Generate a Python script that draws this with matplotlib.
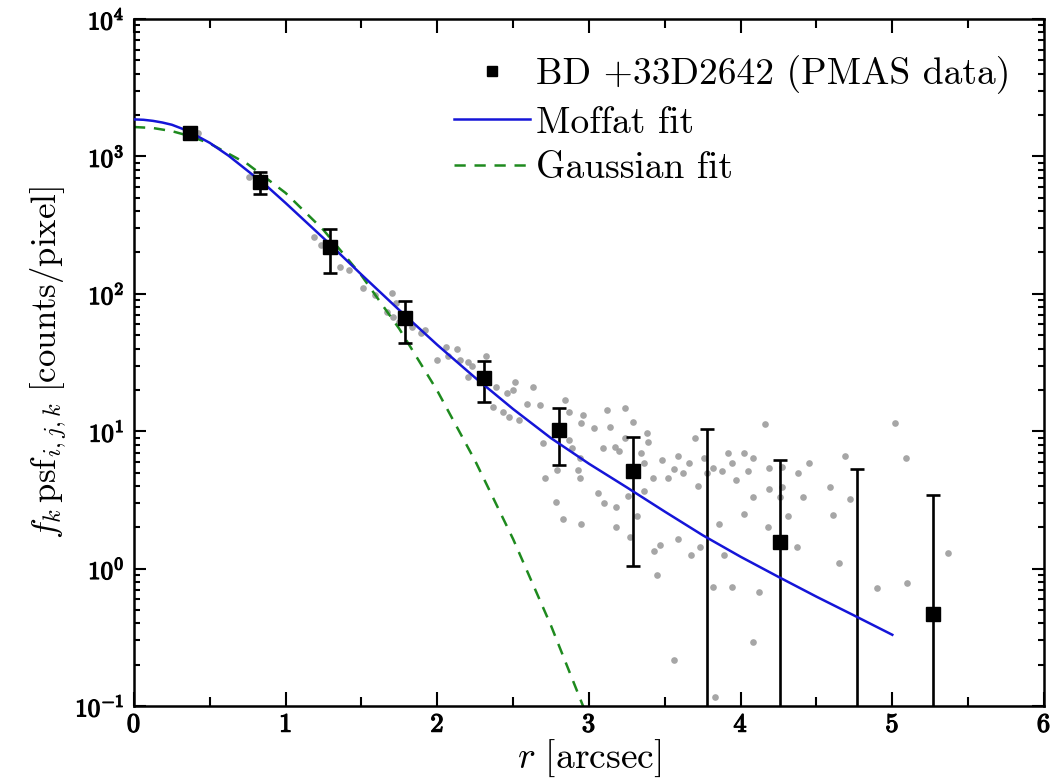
import numpy as np
import matplotlib
matplotlib.use("Agg")
import matplotlib.pyplot as plt
import matplotlib.patheffects as pe
from matplotlib.ticker import FixedLocator, FixedFormatter, LogLocator, NullFormatter, MultipleLocator

plt.rcParams['mathtext.fontset'] = 'cm'
plt.rcParams['font.family'] = ['cmr10', 'DejaVu Serif']
plt.rcParams['axes.formatter.use_mathtext'] = True

# Binned PSF profile (PMAS data)
bin_r = [0.37, 0.83, 1.29, 1.79, 2.31, 2.80, 3.29, 3.78, 4.26, 4.77, 5.27]
bin_val = [1480, 655, 220, 66.5, 24.4, 10.2, 5.1, 0.05, 1.56, 0.05, 0.47]
bin_err = [50, 120, 78, 22.5, 8.0, 4.5, 4.05, 10.35, 4.6, 5.25, 2.97]

# Individual spaxels (grey dots)
dot_r = [0.42, 0.76, 0.83, 1.19, 1.23, 1.36, 1.42, 1.51, 1.59, 1.70, 1.73, 1.67, 1.71, 1.75,
         1.83, 1.89, 1.92, 2.00, 2.06, 2.13, 2.07, 2.15, 2.20, 2.23, 2.20, 2.32, 2.39, 2.46,
         2.51, 2.50, 2.59, 2.63, 2.68, 2.37, 2.43, 2.47, 2.54, 2.84, 2.87, 2.96, 2.95, 3.03,
         3.12, 3.14, 3.09, 3.17, 2.70, 2.87, 2.89, 2.94, 2.79, 2.93, 2.94, 2.71, 2.78, 2.83,
         2.95, 3.06, 3.10, 3.18, 3.18,
         3.24, 3.29, 3.20, 3.24, 3.38, 3.39, 3.34, 3.36, 3.48, 3.59, 3.66, 3.70, 3.56, 3.62,
         3.52, 3.42, 3.36, 3.26, 3.32, 3.27, 3.47, 3.43, 3.59, 3.73, 3.67, 3.45, 3.56, 3.76,
         3.78, 3.72, 3.82, 3.88, 3.92, 3.94, 4.02, 4.08, 4.05, 3.97, 4.08, 4.02, 3.86, 3.89,
         4.18, 4.19, 4.19, 4.27, 4.27, 4.26, 4.31, 4.37, 4.38, 4.41, 4.45, 4.16, 3.82, 3.94,
         4.12, 4.08, 3.83, 4.59, 4.61, 4.69, 4.72, 4.65, 4.90, 5.02, 5.09, 5.10, 5.37]
dot_v = [1480, 708, 708, 259, 226, 157, 149, 110, 98, 101, 86, 74, 68, 62,
         57, 52, 55, 33, 41, 40, 35, 33, 32, 30, 25, 35, 21, 19,
         23, 20, 15.8, 21, 15.5, 15, 13.8, 12.7, 12.1, 16.9, 13.8, 13.1, 11.5, 10.5,
         14.3, 10.7, 7.5, 7.7, 8.2, 8.6, 7.5, 6.4, 5.2, 5.2, 4.6, 4.6, 3.05, 2.3,
         2.1, 3.55, 3.0, 2.8, 2.0,
         14.8, 11.7, 7.2, 8.9, 9.7, 8.3, 6.9, 5.9, 6.2, 6.6, 5.9, 8.9, 5.3, 5.0,
         4.6, 4.6, 3.7, 3.4, 2.4, 1.7, 1.49, 1.34, 1.64, 1.44, 1.26, 0.90, 0.216, 6.4,
         5.0, 4.0, 5.4, 5.1, 6.9, 5.9, 6.9, 6.4, 5.1, 4.4, 3.3, 2.5, 2.1, 1.26,
         2.0, 3.8, 5.4, 5.5, 3.9, 3.3, 2.4, 1.44, 5.0, 3.3, 5.9, 11.3, 0.73, 0.73,
         0.68, 0.29, 0.116, 3.9, 2.45, 6.6, 3.2, 1.1, 0.72, 11.5, 6.4, 0.79, 1.30]

# Moffat fit curve
moffat_r = [0.0, 0.0625, 0.125, 0.1875, 0.25, 0.3125, 0.375, 0.5, 0.625, 0.75, 0.875, 1.0,
            1.25, 1.5, 1.75, 2.0, 2.25, 2.5, 2.75, 3.0, 3.25, 3.5, 3.75, 4.0, 4.25, 4.5,
            4.75, 5.0]
moffat_v = [1860, 1848, 1815, 1765, 1700, 1600, 1490, 1255, 1010, 785, 609, 458,
            254, 138, 76, 42.5, 24.5, 14.5, 8.9, 5.8, 3.9, 2.6, 1.75, 1.22, 0.87, 0.625,
            0.455, 0.33]

# Gaussian fit curve
gauss_r = [0.0, 0.125, 0.25, 0.375, 0.5, 0.75, 1.0, 1.25, 1.5, 1.75, 2.0, 2.25, 2.5, 2.75, 3.0]
gauss_v = [1637, 1610, 1528, 1400, 1242, 879, 542, 291, 136, 55.5, 19.7, 6.08, 1.64, 0.384, 0.078]

x_ticks = [0, 1, 2, 3, 4, 5, 6]
y_ticks = [1e-1, 1e0, 1e1, 1e2, 1e3, 1e4]
y_ticklabels = [r'$\mathbf{10}^{\mathbf{-1}}$', r'$\mathbf{10}^{\mathbf{0}}$', r'$\mathbf{10}^{\mathbf{1}}$',
                r'$\mathbf{10}^{\mathbf{2}}$', r'$\mathbf{10}^{\mathbf{3}}$', r'$\mathbf{10}^{\mathbf{4}}$']
legend_labels = ['BD +33D2642 (PMAS data)', 'Moffat fit', 'Gaussian fit']

fig = plt.figure(figsize=(10.59, 7.83), dpi=100)
ax = fig.add_axes([0.1265, 0.0983, 0.8593, 0.8774])

ax.plot(dot_r, dot_v, 'o', color='#9c9c9c', ms=4.8, mec='none', alpha=0.9, zorder=1)
ax.errorbar(bin_r, bin_val, yerr=bin_err, fmt='none', ecolor='black', elinewidth=1.9,
            capsize=5, capthick=1.9, zorder=3)
moff, = ax.plot(moffat_r, moffat_v, '-', color='#1515d8', lw=1.8, zorder=4)
gaus, = ax.plot(gauss_r, gauss_v, '--', color='#1e8a1e', lw=1.8, dashes=(4.5, 3.5), zorder=2)
sq, = ax.plot(bin_r, bin_val, 's', color='black', ms=9.5, zorder=5, linestyle='none')

ax.set_yscale('log')
ax.set_xlim(0, 6)
ax.set_ylim(1e-1, 1e4)

ax.xaxis.set_major_locator(FixedLocator(x_ticks))
ax.xaxis.set_major_formatter(FixedFormatter([r'$\mathbf{%d}$' % t for t in x_ticks]))
ax.xaxis.set_minor_locator(MultipleLocator(0.5))
ax.yaxis.set_major_locator(FixedLocator(y_ticks))
ax.yaxis.set_major_formatter(FixedFormatter(y_ticklabels))
ax.yaxis.set_minor_locator(LogLocator(base=10, subs=np.arange(2, 10)))
ax.yaxis.set_minor_formatter(NullFormatter())

ax.tick_params(which='both', direction='in', top=True, right=True, width=1.5)
ax.tick_params(axis='x', which='major', length=10, pad=5, labelsize=19)
ax.tick_params(axis='x', which='minor', length=6.5)
ax.tick_params(axis='y', which='major', length=8.5, pad=7, labelsize=18)
ax.tick_params(axis='y', which='minor', length=4.5)
for s in ax.spines.values():
    s.set_linewidth(1.8)
for lab in ax.get_xticklabels() + ax.get_yticklabels():
    lab.set_path_effects([pe.withStroke(linewidth=0.9, foreground='black')])

ax.set_xlabel(r'$r\ [\mathrm{arcsec}]$', fontsize=27, labelpad=1)
ax.set_ylabel(r'$f_k\,\mathrm{psf}_{i,j,k}\ [\mathrm{counts/pixel}]$', fontsize=25, labelpad=4)

leg = ax.legend([sq, moff, gaus], legend_labels,
                loc='upper left', bbox_to_anchor=(0.352, 0.947), frameon=False, fontsize=27,
                handlelength=2.03, handletextpad=0.16, labelspacing=0.32, borderpad=0,
                borderaxespad=0, markerscale=0.75, numpoints=1)

fig.savefig('out.png', dpi=100)
